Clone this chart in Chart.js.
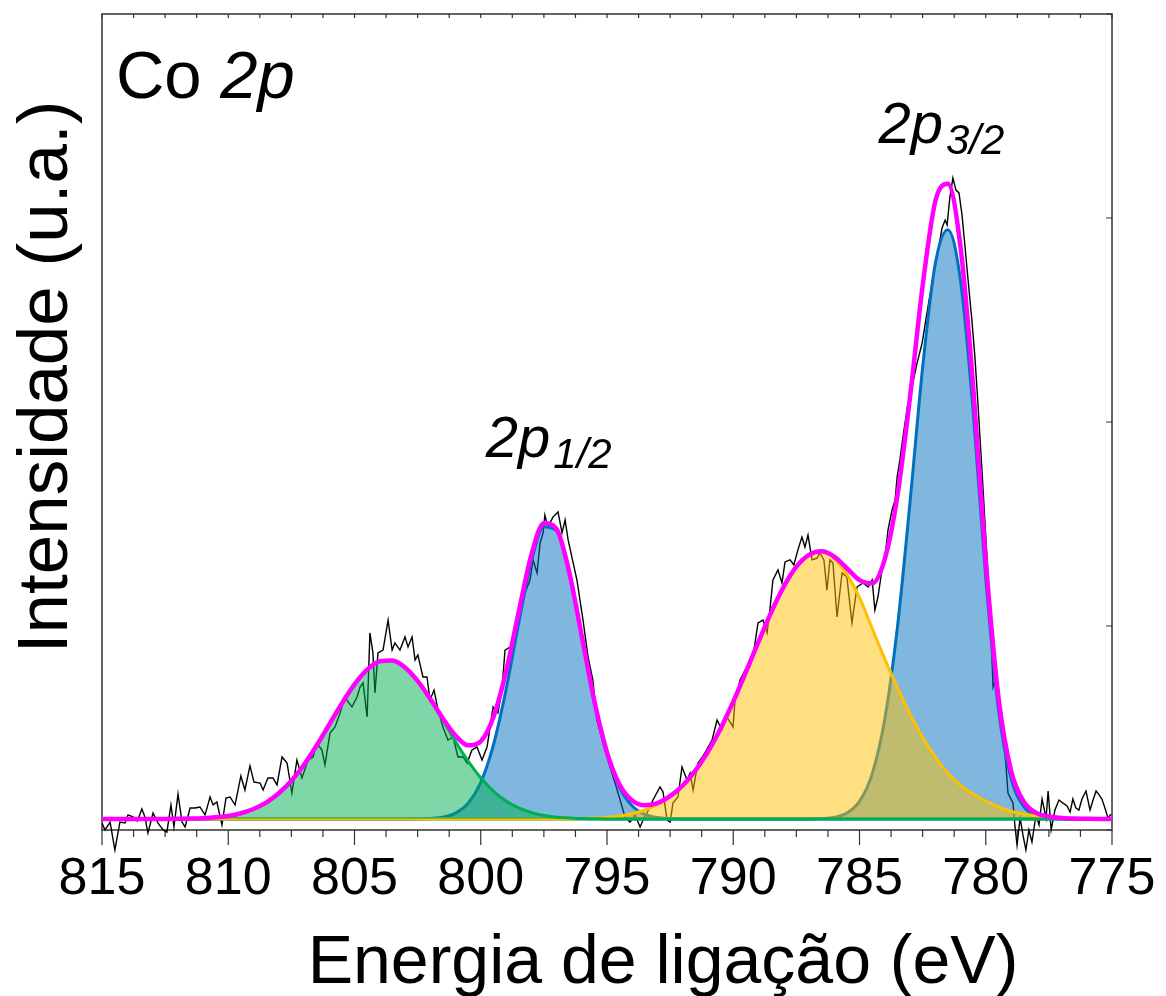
<!DOCTYPE html>
<html lang="pt">
<head>
<meta charset="utf-8">
<title>Co 2p</title>
<script src="https://cdn.jsdelivr.net/npm/chart.js@4.4.1/dist/chart.umd.min.js"></script>
<style>
  html, body { margin: 0; padding: 0; background: #fff; }
  #wrap { width: 1166px; height: 996px; }
</style>
</head>
<body>
<div id="wrap"><canvas id="xps" width="1166" height="996"></canvas></div>
<script>
// binding energy grid of the fitted components (eV)
const energy = [
  815, 814.5, 814, 813.5, 813, 812.5, 812, 811.5, 811, 810.5,
  810, 809.5, 809, 808.5, 808, 807.5, 807, 806.5, 806, 805.5,
  805, 804.5, 804, 803.5, 803, 802.5, 802, 801.5, 801, 800.5,
  800, 799.5, 799, 798.5, 798, 797.5, 797, 796.5, 796, 795.5,
  795, 794.5, 794, 793.5, 793, 792.5, 792, 791.5, 791, 790.5,
  790, 789.5, 789, 788.5, 788, 787.5, 787, 786.5, 786, 785.5,
  785, 784.5, 784, 783.5, 783, 782.5, 782, 781.5, 781, 780.5,
  780, 779.5, 779, 778.5, 778, 777.5, 777, 776.5, 776, 775.5,
  775
];

// constant background under the fit (u.a.)
const background = 0.054;

// satellite of 2p1/2 (green)
const sat2p12 = [
  0, 0, 0, 0, 0, 0, 0.001, 0.002, 0.004, 0.008,
  0.015, 0.028, 0.049, 0.080, 0.126, 0.187, 0.266, 0.360, 0.463, 0.566,
  0.660, 0.732, 0.773, 0.777, 0.743, 0.676, 0.586, 0.484, 0.380, 0.284,
  0.202, 0.137, 0.088, 0.054, 0.032, 0.017, 0.009, 0.005, 0.002, 0.001,
  0, 0, 0, 0, 0, 0, 0, 0, 0, 0,
  0, 0, 0, 0, 0, 0, 0, 0, 0, 0,
  0, 0, 0, 0, 0, 0, 0, 0, 0, 0,
  0, 0, 0, 0, 0, 0, 0, 0, 0, 0,
  0
];

// Co 2p1/2 main line (blue)
const peak2p12 = [
  0, 0, 0, 0, 0, 0, 0, 0, 0, 0,
  0, 0, 0, 0, 0, 0, 0, 0, 0, 0,
  0, 0, 0, 0, 0, 0.001, 0.003, 0.009, 0.029, 0.077,
  0.179, 0.362, 0.633, 0.959, 1.260, 1.433, 1.413, 1.207, 0.893, 0.572,
  0.318, 0.153, 0.064, 0.023, 0.007, 0.002, 0, 0, 0, 0,
  0, 0, 0, 0, 0, 0, 0, 0, 0, 0,
  0, 0, 0, 0, 0, 0, 0, 0, 0, 0,
  0, 0, 0, 0, 0, 0, 0, 0, 0, 0,
  0
];

// satellite of 2p3/2 (yellow)
const sat2p32 = [
  0, 0, 0, 0, 0, 0, 0, 0, 0, 0,
  0, 0, 0, 0, 0, 0, 0, 0, 0, 0,
  0, 0, 0, 0, 0, 0, 0, 0, 0, 0,
  0, 0, 0, 0, 0, 0, 0, 0, 0.002, 0.005,
  0.009, 0.015, 0.027, 0.044, 0.071, 0.110, 0.164, 0.237, 0.330, 0.444,
  0.575, 0.720, 0.869, 1.013, 1.139, 1.237, 1.295, 1.310, 1.278, 1.200,
  1.085, 0.935, 0.785, 0.645, 0.515, 0.400, 0.305, 0.225, 0.165, 0.122,
  0.088, 0.060, 0.038, 0.024, 0.014, 0.008, 0.004, 0.002, 0.001, 0,
  0
];

// Co 2p3/2 main line (blue)
const peak2p32 = [
  0, 0, 0, 0, 0, 0, 0, 0, 0, 0,
  0, 0, 0, 0, 0, 0, 0, 0, 0, 0,
  0, 0, 0, 0, 0, 0, 0, 0, 0, 0,
  0, 0, 0, 0, 0, 0, 0, 0, 0, 0,
  0, 0, 0, 0, 0, 0, 0, 0, 0, 0,
  0, 0, 0, 0, 0, 0, 0, 0.002, 0.008, 0.029,
  0.086, 0.220, 0.489, 0.938, 1.552, 2.213, 2.722, 2.889, 2.640, 2.000,
  1.180, 0.540, 0.200, 0.062, 0.016, 0.004, 0.001, 0, 0, 0,
  0
];

// measured spectrum: [binding energy (eV), intensity (u.a.)]
const rawSpectrum = [
  [815.00, 0.034], [814.88, 0.000], [814.68, 0.039], [814.49, -0.098], [814.29, 0.039],
  [814.09, 0.034], [813.97, 0.074], [813.77, 0.064], [813.60, 0.044], [813.42, 0.103],
  [813.30, 0.064], [813.18, -0.015], [812.98, 0.083], [812.78, 0.034], [812.58, 0.000],
  [812.43, -0.010], [812.27, 0.123], [812.15, 0.015], [811.99, 0.176], [811.83, 0.039],
  [811.71, 0.015], [811.51, 0.108], [811.32, 0.108], [811.12, 0.113], [810.92, 0.074],
  [810.72, 0.162], [810.60, 0.123], [810.45, 0.137], [810.25, 0.025], [810.09, 0.157],
  [809.93, 0.162], [809.73, 0.123], [809.50, 0.265], [809.34, 0.196], [809.14, 0.314],
  [808.98, 0.235], [808.74, 0.230], [808.62, 0.196], [808.43, 0.255], [808.23, 0.255],
  [808.07, 0.221], [807.87, 0.358], [807.67, 0.328], [807.48, 0.181], [807.28, 0.343],
  [807.08, 0.255], [806.84, 0.343], [806.64, 0.358], [806.49, 0.426], [806.29, 0.392],
  [806.17, 0.319], [805.97, 0.475], [805.77, 0.505], [805.57, 0.574], [805.38, 0.652],
  [805.30, 0.637], [805.10, 0.603], [804.90, 0.652], [804.78, 0.701], [804.66, 0.721],
  [804.50, 0.554], [804.39, 0.966], [804.27, 0.868], [804.19, 0.672], [804.07, 0.868],
  [803.87, 0.882], [803.67, 1.029], [803.51, 0.882], [803.40, 0.917], [803.20, 0.882],
  [803.00, 0.946], [802.88, 0.897], [802.72, 0.946], [802.60, 0.833], [802.49, 0.858],
  [802.29, 0.750], [802.13, 0.750], [802.01, 0.637], [801.85, 0.686], [801.69, 0.588],
  [801.50, 0.505], [801.30, 0.441], [801.10, 0.456], [800.90, 0.358], [800.70, 0.358],
  [800.54, 0.328], [800.35, 0.392], [800.15, 0.407], [799.95, 0.343], [799.75, 0.407],
  [799.51, 0.603], [799.32, 0.574], [799.16, 0.686], [799.04, 0.882], [798.84, 0.897],
  [798.76, 0.848], [798.56, 0.995], [798.45, 1.044], [798.25, 1.162], [798.05, 1.225],
  [797.93, 1.324], [797.77, 1.260], [797.65, 1.407], [797.53, 1.456], [797.46, 1.544],
  [797.34, 1.485], [797.14, 1.534], [796.94, 1.559], [796.78, 1.456], [796.66, 1.520],
  [796.54, 1.422], [796.39, 1.338], [796.19, 1.225], [796.07, 1.127], [795.95, 1.029],
  [795.75, 0.848], [795.56, 0.735], [795.40, 0.539], [795.16, 0.426], [794.88, 0.309],
  [794.68, 0.230], [794.48, 0.147], [794.29, 0.064], [794.09, 0.039], [793.89, 0.074],
  [793.69, 0.015], [793.57, 0.049], [793.42, 0.083], [793.18, 0.147], [792.90, 0.211],
  [792.78, 0.186], [792.62, 0.049], [792.50, 0.039], [792.39, 0.132], [792.19, 0.162],
  [792.03, 0.309], [791.83, 0.245], [791.71, 0.279], [791.59, 0.196], [791.40, 0.328],
  [791.22, 0.358], [791.06, 0.392], [790.84, 0.441], [790.64, 0.539], [790.45, 0.490],
  [790.25, 0.554], [790.01, 0.505], [789.93, 0.637], [789.73, 0.735], [789.53, 0.784],
  [789.34, 0.799], [789.18, 0.882], [789.02, 1.015], [788.82, 1.029], [788.66, 0.966],
  [788.55, 1.078], [788.43, 1.225], [788.23, 1.275], [788.07, 1.211], [787.95, 1.314],
  [787.75, 1.324], [787.60, 1.299], [787.44, 1.373], [787.28, 1.436], [787.16, 1.387],
  [787.04, 1.446], [786.88, 1.324], [786.68, 1.333], [786.57, 1.358], [786.41, 1.324],
  [786.29, 1.176], [786.17, 1.324], [786.05, 1.309], [785.89, 1.044], [785.69, 1.260],
  [785.50, 1.240], [785.30, 1.015], [785.10, 1.191], [784.86, 1.211], [784.66, 1.191],
  [784.50, 1.225], [784.39, 1.078], [784.27, 1.142], [784.11, 1.275], [783.99, 1.338],
  [783.87, 1.471], [783.71, 1.569], [783.59, 1.618], [783.51, 1.730], [783.40, 1.814],
  [783.28, 1.926], [783.08, 2.093], [782.92, 2.172], [782.72, 2.289], [782.52, 2.387],
  [782.33, 2.534], [782.13, 2.681], [781.93, 2.809], [781.73, 2.951], [781.61, 2.990],
  [781.53, 2.966], [781.42, 3.103], [781.30, 3.196], [781.18, 3.137], [781.06, 3.123],
  [780.94, 3.015], [780.82, 2.858], [780.70, 2.696], [780.55, 2.500], [780.43, 2.319],
  [780.31, 2.093], [780.23, 1.926], [780.15, 1.765], [779.99, 1.420], [779.83, 1.078],
  [779.71, 0.701], [779.63, 0.735], [779.47, 0.637], [779.32, 0.475], [779.20, 0.319],
  [779.12, 0.181], [778.92, 0.132], [778.84, 0.015], [778.76, -0.074], [778.64, 0.059],
  [778.52, -0.029], [778.41, -0.098], [778.29, 0.000], [778.17, -0.059], [778.01, 0.074],
  [777.89, 0.025], [777.77, 0.152], [777.61, 0.059], [777.53, 0.191], [777.41, 0.000],
  [777.26, 0.098], [777.10, 0.147], [776.94, 0.132], [776.78, 0.118], [776.66, 0.088],
  [776.55, 0.152], [776.43, 0.108], [776.31, 0.098], [776.19, 0.152], [776.03, 0.191],
  [775.87, 0.098], [775.75, 0.147], [775.63, 0.191], [775.51, 0.172], [775.40, 0.152],
  [775.28, 0.108], [775.16, 0.059], [775.04, 0.078]
];

// axis range and ticks
const energyMin = 775;
const energyMax = 815;
const majorStep = 5;
const minorStep = 1.25;

const FONT = '"Liberation Sans", Arial, Helvetica, sans-serif';

function component(values) {
  return energy.map((e, i) => ({ x: e, y: background + values[i] }));
}

// fitted envelope = background + all components
const envelope = energy.map((e, i) => ({
  x: e,
  y: background + sat2p12[i] + peak2p12[i] + sat2p32[i] + peak2p32[i]
}));

// frame, tick marks and annotation text
const frameAndText = {
  id: 'frameAndText',
  beforeDatasetsDraw(chart) {
    const { ctx, chartArea: a, scales: { x, y } } = chart;
    ctx.save();
    ctx.strokeStyle = '#333';
    ctx.lineWidth = 1.5;
    ctx.strokeRect(a.left, a.top, a.right - a.left, a.bottom - a.top);

    ctx.lineWidth = 1.2;
    ctx.beginPath();
    for (let v = energyMax; v >= energyMin - 1e-6; v -= minorStep) {
      const px = x.getPixelForValue(v);
      const major = Math.abs(v % majorStep) < 1e-6;
      ctx.moveTo(px, a.bottom);
      ctx.lineTo(px, a.bottom + (major ? 15 : 7));
      ctx.moveTo(px, a.top);
      ctx.lineTo(px, a.top + 4);
    }
    y.ticks.forEach(t => {
      const py = y.getPixelForValue(t.value);
      ctx.moveTo(a.right, py);
      ctx.lineTo(a.right - 6, py);
    });
    ctx.stroke();
    ctx.restore();
  },
  afterDraw(chart) {
    const { ctx, scales: { x, y } } = chart;
    ctx.save();
    ctx.fillStyle = '#000';
    ctx.textBaseline = 'alphabetic';
    ctx.textAlign = 'left';

    // panel label
    let px = x.getPixelForValue(814.45);
    const py = y.getPixelForValue(3.59);
    ctx.font = `67px ${FONT}`;
    ctx.fillText('Co ', px, py);
    px += ctx.measureText('Co ').width;
    ctx.font = `italic 67px ${FONT}`;
    ctx.fillText('2p', px, py);

    // peak labels
    const orbital = (e, v, sub) => {
      let lx = x.getPixelForValue(e);
      const ly = y.getPixelForValue(v);
      ctx.font = `italic 58px ${FONT}`;
      ctx.fillText('2p', lx, ly);
      lx += ctx.measureText('2p').width + 3;
      ctx.font = `italic 42px ${FONT}`;
      ctx.fillText(sub, lx, ly + 11);
    };
    orbital(799.8, 1.83, '1/2');
    orbital(784.25, 3.37, '3/2');

    // axis titles
    ctx.font = `68px ${FONT}`;
    ctx.textAlign = 'center';
    ctx.fillText('Energia de ligação (eV)', 663, 983);
    ctx.font = `71px ${FONT}`;
    ctx.translate(67, 377);
    ctx.rotate(-Math.PI / 2);
    ctx.fillText('Intensidade (u.a.)', 0, 0);
    ctx.restore();
  }
};

const curve = {
  pointRadius: 0,
  cubicInterpolationMode: 'monotone',
  borderWidth: 3
};

new Chart(document.getElementById('xps'), {
  type: 'line',
  data: {
    datasets: [
      {
        label: 'Envelope',
        data: envelope,
        ...curve,
        borderColor: '#ff00ff',
        borderWidth: 4.5,
        fill: false
      },
      {
        label: 'Sat. 2p1/2',
        data: component(sat2p12),
        ...curve,
        borderColor: '#00b050',
        backgroundColor: 'rgba(0, 176, 80, 0.5)',
        fill: { value: background }
      },
      {
        label: 'Sat. 2p3/2',
        data: component(sat2p32),
        ...curve,
        borderColor: '#ffc000',
        backgroundColor: 'rgba(255, 192, 0, 0.5)',
        fill: { value: background }
      },
      {
        label: '2p3/2',
        data: component(peak2p32),
        ...curve,
        borderColor: '#0070c0',
        backgroundColor: 'rgba(0, 112, 192, 0.5)',
        fill: { value: background }
      },
      {
        label: '2p1/2',
        data: component(peak2p12),
        ...curve,
        borderColor: '#0070c0',
        backgroundColor: 'rgba(0, 112, 192, 0.5)',
        fill: { value: background }
      },
      {
        label: 'Medido',
        data: rawSpectrum.map(([e, c]) => ({ x: e, y: c })),
        borderColor: '#000',
        borderWidth: 1.4,
        pointRadius: 0,
        tension: 0,
        fill: false,
        clip: { left: 0, top: 0, right: 0, bottom: 40 }
      }
    ]
  },
  options: {
    responsive: false,
    devicePixelRatio: 1,
    animation: false,
    events: [],
    layout: { padding: { left: 0, top: 14, right: 54, bottom: 0 } },
    plugins: {
      legend: { display: false },
      tooltip: { enabled: false }
    },
    scales: {
      x: {
        type: 'linear',
        min: energyMin,
        max: energyMax,
        reverse: true,
        grid: { display: false, drawTicks: false },
        border: { display: false },
        ticks: {
          stepSize: majorStep,
          autoSkip: false,
          maxRotation: 0,
          padding: 18,
          color: '#000',
          font: { family: FONT, size: 52 }
        },
        afterFit(scale) {
          scale.height = 166;
          // end labels may overhang the plot; the layout padding leaves room
          scale.paddingLeft = 0;
          scale.paddingRight = 0;
        }
      },
      y: {
        type: 'linear',
        min: 0,
        max: 4,
        grid: { display: false, drawTicks: false },
        border: { display: false },
        ticks: { display: false, stepSize: 1 },
        afterFit(scale) { scale.width = 102; }
      }
    }
  },
  plugins: [frameAndText]
});
</script>
</body>
</html>
